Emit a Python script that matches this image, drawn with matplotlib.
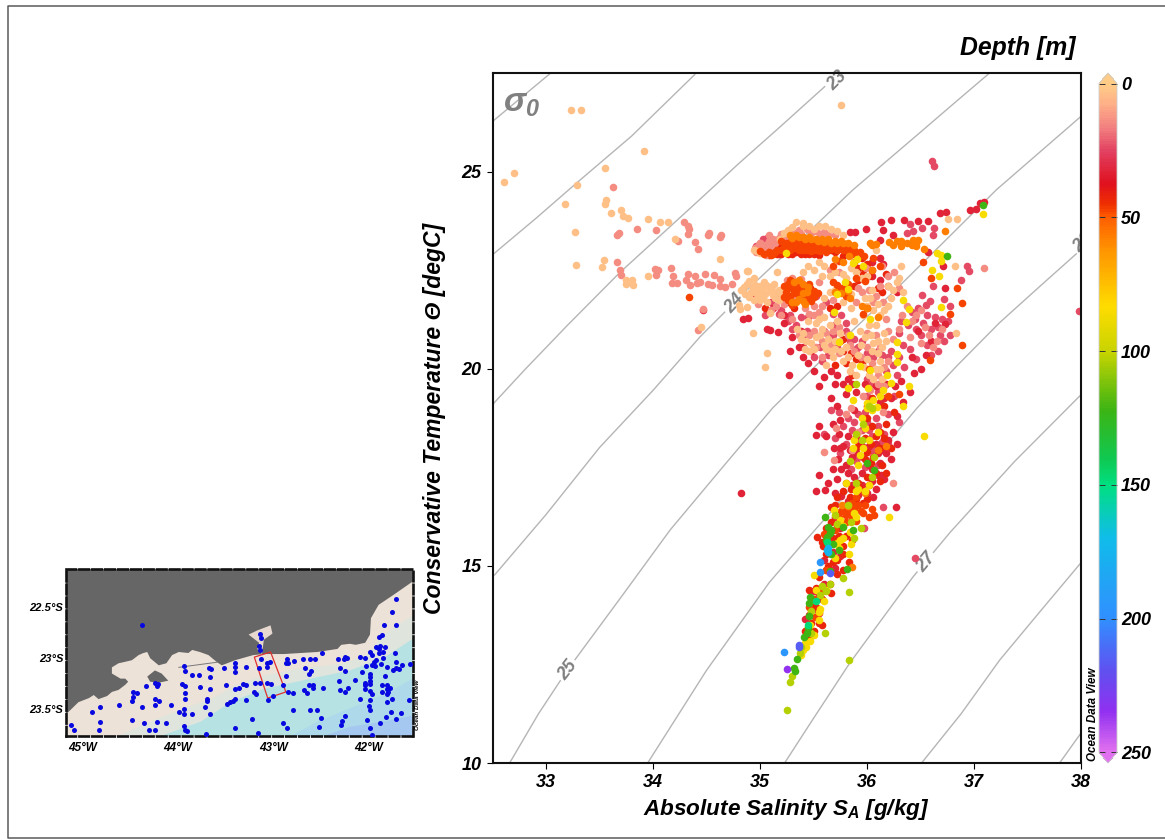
#!/usr/bin/env python3
"""T-S diagram of Conservative Temperature vs Absolute Salinity, with a station map inset."""

import matplotlib
matplotlib.use("Agg")
import matplotlib.pyplot as plt
from matplotlib.cm import ScalarMappable
from matplotlib.colors import LinearSegmentedColormap, Normalize
from matplotlib.lines import Line2D
from matplotlib.patches import Polygon

# density contours (SA, CT)
sigma_21 = [(32.50, 26.27), (33.04, 27.49)]
sigma_22 = [(32.50, 22.89), (32.90, 23.80), (33.29, 24.72), (33.80, 25.90), (34.39, 27.46)]
sigma_23 = [(32.50, 19.09), (32.80, 19.97), (33.20, 21.10), (33.69, 22.44), (34.40, 24.20), (34.80, 25.20), (35.19, 26.14), (35.75, 27.51)]
sigma_24 = [(32.52, 14.77), (33.00, 16.30), (33.50, 18.00), (34.00, 19.45), (34.44, 20.81), (34.86, 21.95), (35.35, 23.20),
            (35.87, 24.54), (36.50, 26.00), (36.80, 26.70), (37.15, 27.51)]
sigma_25 = [(32.66, 10.0), (32.93, 11.25), (33.20, 12.36), (33.70, 14.20), (34.16, 15.91), (34.65, 17.50), (35.12, 19.01),
            (35.70, 20.55), (36.24, 21.93), (36.75, 23.30), (37.21, 24.54), (38.0, 26.40)]
sigma_26 = [(33.95, 10.0), (34.50, 12.35), (35.09, 14.59), (35.38, 15.50), (35.68, 16.42), (36.05, 17.65), (36.47, 19.01),
            (36.85, 20.10), (37.24, 21.17), (37.62, 22.10), (38.0, 23.02)]
sigma_27 = [(35.23, 10.0), (35.49, 11.09), (35.84, 12.54), (36.14, 13.65), (36.43, 14.72), (36.78, 15.86), (37.38, 17.65), (38.0, 19.34)]
sigma_28 = [(36.51, 10.0), (36.88, 11.25), (37.24, 12.61), (37.62, 13.85), (38.0, 15.08)]
sigma_29 = [(37.80, 10.0), (38.0, 10.76)]
sigma_lines = [sigma_21, sigma_22, sigma_23, sigma_24, sigma_25, sigma_26, sigma_27, sigma_28, sigma_29]

# T-S samples grouped by depth [m], (SA, CT)
pts_d03 = [
    (33.23, 26.57), (33.33, 26.56), (32.61, 24.73), (32.70, 24.97), (33.55, 25.08), (33.92, 25.52), (33.29, 24.66),
    (33.18, 24.17), (33.56, 24.27), (33.55, 24.17), (33.61, 23.95), (33.70, 24.03), (33.72, 23.87), (33.77, 23.82),
    (33.95, 23.80), (34.07, 23.73), (34.14, 23.73), (33.27, 23.46), (33.28, 22.64), (33.54, 22.75), (33.52, 22.59),
    (34.21, 23.29), (34.63, 22.77), (33.95, 22.34), (33.75, 22.26), (33.80, 22.26), (33.75, 22.16), (33.81, 22.13),
    (34.88, 22.48), (34.45, 21.07), (34.93, 20.90), (35.07, 20.40), (35.05, 20.04), (34.81, 21.51), (34.88, 21.57),
    (35.09, 21.41), (35.76, 26.70), (34.82, 22.00), (34.85, 22.08), (34.88, 22.15), (34.90, 22.22), (34.93, 22.05),
    (34.95, 22.12), (34.97, 21.98), (35.00, 22.10), (35.02, 22.00), (35.05, 21.90), (35.08, 22.05), (35.10, 21.95),
    (35.12, 21.88), (35.15, 21.95), (35.16, 22.45), (34.89, 22.49), (34.80, 21.62), (34.94, 22.30), (35.00, 21.75),
    (35.07, 21.70), (34.99, 21.85), (35.13, 22.15), (35.34, 23.72), (35.40, 23.70), (35.55, 23.61), (35.61, 23.61),
    (35.72, 23.49), (35.26, 23.53), (35.19, 23.28), (34.97, 22.98), (34.94, 23.02), (35.00, 22.94), (35.30, 23.60),
    (35.46, 23.62), (35.50, 23.55), (35.40, 20.90), (35.43, 20.70), (35.48, 20.65), (35.52, 20.80), (35.55, 21.25),
    (35.58, 21.00), (35.60, 21.30), (35.62, 20.50), (35.65, 21.10), (35.68, 20.30), (35.70, 20.70), (35.72, 21.20),
    (35.75, 20.90), (35.78, 20.20), (35.80, 20.55), (35.62, 20.10), (35.52, 21.15), (35.45, 21.20), (35.60, 21.80),
    (35.65, 21.95), (35.70, 22.00), (35.78, 21.70), (35.85, 21.55), (35.88, 21.20), (35.93, 20.95), (35.96, 21.35),
    (36.00, 21.60), (36.03, 21.80), (36.06, 21.50), (36.08, 21.10), (36.10, 20.70), (36.12, 21.35), (36.05, 20.45),
    (36.00, 20.25), (36.08, 20.00), (36.02, 19.85), (35.97, 20.05), (36.12, 20.20), (36.14, 20.55), (36.22, 21.80),
    (36.20, 22.10), (36.30, 22.30), (36.82, 22.60), (36.83, 20.90), (36.76, 23.80), (36.84, 23.80), (36.32, 22.60),
    (36.08, 23.00), (35.85, 22.55), (35.78, 22.40), (35.70, 22.45), (35.60, 22.60), (35.58, 22.35), (35.95, 22.30),
    (34.86, 21.90), (34.90, 21.82), (34.94, 21.75), (34.96, 21.92), (35.03, 21.80), (35.06, 22.12), (35.11, 22.10),
    (35.14, 21.80), (35.18, 21.75), (35.18, 22.00), (35.20, 21.90), (35.04, 22.20), (34.92, 21.95), (35.35, 21.00),
    (35.38, 20.75), (35.42, 20.50), (35.46, 20.45), (35.50, 20.50), (35.56, 20.85), (35.60, 20.60), (35.64, 20.75),
    (35.66, 20.45), (35.70, 20.50), (35.74, 20.70), (35.76, 20.45), (35.82, 20.30), (35.86, 20.10), (35.84, 19.95),
    (35.90, 19.85), (35.92, 20.35), (35.94, 20.60), (35.98, 20.80), (36.02, 21.10), (36.04, 20.85), (36.06, 20.65),
    (36.10, 20.40), (36.12, 20.00), (36.14, 19.75), (36.06, 19.75), (36.16, 20.90), (36.18, 20.70), (36.16, 21.50),
    (36.10, 21.65), (36.05, 22.00), (35.98, 21.80), (36.24, 22.00), (36.28, 22.20), (36.34, 21.95), (35.85, 21.90),
    (35.80, 22.30), (35.55, 22.70), (35.50, 22.50), (35.45, 22.60), (35.40, 22.45), (35.65, 22.35), (35.90, 22.45),
    (36.00, 22.35), (36.20, 21.60), (35.40, 23.62), (35.66, 23.55), (35.22, 23.45), (35.78, 23.40),
]
pts_d14 = [
    (33.63, 24.60), (33.68, 23.44), (33.66, 23.39), (33.85, 23.55), (34.03, 23.53), (34.29, 23.72), (34.33, 23.61),
    (34.34, 23.55), (34.33, 23.42), (34.23, 23.24), (34.39, 23.22), (34.42, 23.04), (34.52, 23.44), (34.51, 23.38),
    (34.64, 23.38), (34.63, 23.33), (33.66, 22.70), (33.69, 22.51), (33.70, 22.37), (34.02, 22.53), (34.05, 22.50),
    (34.03, 22.37), (34.17, 22.56), (34.19, 22.34), (34.18, 22.18), (34.22, 22.18), (34.33, 22.39), (34.31, 22.26),
    (34.35, 22.13), (34.39, 22.34), (34.41, 22.18), (34.44, 22.20), (34.49, 22.41), (34.51, 22.16), (34.55, 22.13),
    (34.57, 22.37), (34.63, 22.28), (34.63, 22.11), (34.67, 22.06), (34.74, 22.16), (34.77, 22.43), (34.78, 22.34),
    (34.42, 20.97), (34.47, 21.52), (35.08, 23.40), (35.00, 23.18), (35.04, 23.08), (35.12, 23.30), (35.20, 23.42),
    (35.28, 23.48), (35.36, 23.52), (35.44, 23.55), (35.52, 23.50), (35.60, 23.48), (34.96, 22.96), (35.02, 22.98),
    (35.06, 22.88), (35.25, 22.25), (35.30, 22.30), (35.38, 22.28), (35.15, 21.60), (35.22, 21.65), (35.30, 21.80),
    (35.42, 21.75), (35.50, 21.60), (35.46, 21.40), (35.55, 21.45), (35.50, 20.95), (35.58, 20.70), (35.66, 20.60),
    (35.74, 20.40), (35.82, 20.85), (35.90, 21.70), (35.95, 21.95), (36.02, 22.00), (36.08, 21.85), (36.15, 21.70),
    (36.18, 21.25), (36.20, 20.95), (36.00, 20.90), (36.05, 20.15), (36.10, 19.85), (36.25, 22.45), (36.14, 22.60),
    (35.99, 22.55), (36.37, 21.60), (36.46, 21.35), (36.54, 21.05), (36.40, 20.80), (36.50, 20.65), (36.62, 20.55),
    (36.70, 21.00), (37.09, 22.56), (36.15, 18.90), (35.86, 17.95), (35.71, 18.50), (35.60, 17.90), (35.69, 17.69),
    (36.24, 17.10), (35.96, 19.30), (35.85, 19.00), (35.92, 18.40), (35.80, 18.85), (34.95, 23.05), (34.98, 23.12),
    (35.00, 23.20), (35.03, 23.00), (35.05, 23.15), (35.08, 23.25), (35.10, 23.10), (35.14, 23.20), (35.18, 23.32),
    (35.22, 23.30), (35.26, 23.40), (35.30, 23.38), (35.34, 23.45), (35.38, 23.42), (35.48, 23.45), (35.56, 23.42),
    (35.64, 23.38), (35.70, 23.40), (34.98, 21.65), (35.10, 21.50), (35.20, 21.35), (35.30, 21.25), (35.42, 21.55),
    (35.36, 20.85), (35.46, 20.85), (35.52, 20.55), (35.58, 20.30), (35.62, 20.90), (35.68, 20.95), (35.74, 21.05),
    (35.84, 20.60), (35.88, 20.45), (35.94, 20.30), (36.00, 20.55), (36.08, 20.85), (36.12, 20.55), (36.16, 20.05),
    (36.20, 20.20), (36.24, 20.75), (36.10, 19.60), (36.03, 19.45), (36.16, 19.55), (36.30, 21.00), (36.33, 21.35),
    (36.42, 21.20), (36.50, 21.50), (36.58, 20.85), (36.65, 20.70), (36.20, 22.35), (36.30, 22.05), (36.12, 22.10),
    (36.06, 21.70), (35.92, 22.05), (35.74, 22.45), (35.65, 22.50), (35.55, 22.20), (35.50, 21.35), (35.58, 21.60),
    (35.68, 21.75),
]
pts_d24 = [
    (35.20, 21.50), (35.10, 21.70), (35.05, 21.35), (35.28, 21.35), (35.34, 21.10), (35.44, 20.95), (35.56, 20.55),
    (35.60, 20.95), (35.68, 20.85), (35.72, 20.55), (35.90, 20.50), (35.95, 20.70), (36.10, 20.45), (36.22, 20.45),
    (36.30, 20.90), (36.38, 21.10), (36.51, 21.88), (36.59, 21.71), (36.62, 22.09), (36.56, 21.37), (36.45, 21.25),
    (36.52, 21.16), (36.64, 21.30), (36.70, 21.27), (36.48, 21.55), (36.55, 21.62), (36.40, 20.50), (36.46, 20.25),
    (36.35, 20.05), (36.28, 19.85), (36.20, 20.30), (36.05, 19.60), (36.00, 19.75), (35.80, 20.95), (35.62, 21.70),
    (35.68, 21.40), (35.52, 21.85), (35.45, 21.30), (36.93, 22.61), (36.95, 22.49), (36.88, 22.24), (36.78, 21.60),
    (36.72, 21.78), (36.68, 20.85), (36.72, 20.70), (36.60, 21.00), (36.40, 23.67), (36.37, 23.44), (36.43, 23.49),
    (36.51, 23.57), (36.63, 23.57), (36.62, 23.40), (35.60, 18.35), (35.78, 18.55), (35.82, 18.75), (35.88, 18.65),
    (35.95, 18.45), (36.00, 18.65), (36.05, 18.30), (35.98, 18.90), (36.08, 18.75), (35.90, 18.20), (35.97, 15.97),
    (36.15, 16.50), (36.45, 15.20), (35.75, 17.85), (35.92, 17.75), (36.00, 17.65), (35.85, 17.45), (36.14, 18.15),
    (37.98, 21.47), (36.61, 25.28), (36.63, 25.13), (34.96, 23.10), (34.99, 23.00), (35.02, 23.12), (35.06, 23.02),
    (35.10, 23.18), (35.14, 23.08), (35.03, 23.28), (35.07, 23.32), (35.12, 22.95), (35.18, 22.92), (35.18, 21.40),
    (35.26, 21.20), (35.30, 21.00), (35.38, 21.30), (35.42, 20.85), (35.50, 20.30), (35.58, 20.20), (35.64, 20.35),
    (35.68, 20.65), (35.70, 21.10), (35.76, 21.35), (35.80, 21.15), (35.84, 20.70), (35.88, 20.75), (35.92, 20.55),
    (36.00, 20.40), (36.06, 20.30), (36.14, 20.35), (36.18, 19.95), (36.24, 20.10), (36.30, 20.30), (36.34, 20.60),
    (36.32, 21.20), (36.42, 21.45), (36.46, 21.00), (36.50, 20.85), (36.56, 20.60), (36.60, 20.35), (36.66, 20.45),
    (36.66, 21.05), (36.76, 21.20), (36.78, 20.85), (35.66, 18.95), (35.74, 18.90), (35.70, 18.25), (35.80, 18.10),
    (35.86, 18.45), (35.92, 18.85), (36.02, 18.45), (36.10, 18.55), (36.16, 18.35), (36.20, 18.10), (36.05, 17.95),
    (35.90, 17.65), (35.98, 17.50), (36.10, 17.55), (36.00, 19.30), (36.10, 19.40), (36.25, 19.30), (36.30, 18.65),
    (36.20, 18.85),
]
pts_d33 = [
    (34.84, 21.26), (34.89, 21.28), (34.96, 21.82), (34.47, 21.50), (35.07, 21.00), (35.09, 20.98), (35.17, 20.92),
    (35.22, 21.15), (35.28, 20.45), (35.27, 19.85), (35.36, 20.55), (35.40, 20.30), (35.45, 20.15), (35.55, 19.55),
    (35.66, 19.95), (35.72, 19.85), (35.90, 19.40), (36.12, 19.15), (36.22, 19.25), (36.34, 19.15), (36.40, 19.40),
    (36.13, 23.72), (36.22, 23.76), (36.35, 23.78), (36.48, 23.74), (36.57, 23.74), (36.68, 23.95), (36.74, 23.97),
    (36.96, 24.02), (37.02, 24.04), (37.09, 24.22), (37.06, 24.20), (35.99, 23.55), (36.15, 23.51), (36.24, 23.40),
    (35.84, 23.46), (35.89, 23.46), (36.12, 23.27), (36.57, 22.96), (36.71, 22.61), (36.73, 22.05), (36.64, 21.16),
    (36.73, 21.13), (36.05, 22.70), (36.12, 22.80), (36.15, 22.65), (36.05, 22.35), (36.12, 22.25), (36.20, 22.10),
    (36.28, 21.95), (35.55, 18.54), (35.52, 18.32), (35.69, 17.99), (35.55, 17.30), (35.52, 16.89), (35.61, 16.93),
    (35.70, 16.86), (35.76, 16.76), (36.27, 16.50), (35.66, 19.25), (35.72, 19.05), (35.80, 19.35), (35.88, 18.95),
    (35.75, 18.70), (35.82, 18.30), (35.78, 18.05), (35.73, 17.70), (35.80, 17.55), (35.86, 17.75), (35.90, 17.90),
    (35.95, 18.05), (36.02, 18.05), (36.08, 18.10), (36.10, 17.85), (36.18, 17.85), (36.22, 17.70), (36.12, 17.60),
    (36.05, 17.45), (35.95, 17.35), (35.88, 17.25), (35.80, 17.10), (35.72, 17.20), (35.95, 17.05), (36.05, 17.15),
    (36.08, 16.95), (36.13, 17.30), (35.62, 15.75), (35.75, 15.25), (35.70, 14.95), (35.60, 14.55), (35.50, 14.35),
    (34.82, 16.85), (35.12, 21.55), (35.22, 21.35), (35.30, 20.80), (35.38, 20.95), (35.40, 20.55), (35.48, 20.45),
    (35.50, 19.95), (35.60, 19.80), (35.70, 19.60), (35.78, 19.60), (35.82, 19.75), (35.86, 19.60), (35.98, 19.60),
    (36.08, 19.55), (36.18, 19.60), (36.26, 19.55), (36.32, 19.70), (36.44, 19.90), (36.50, 20.00), (36.55, 20.35),
    (36.60, 20.70), (36.48, 20.95), (36.42, 20.30), (36.16, 19.25), (36.28, 18.80), (36.24, 18.40), (36.28, 18.10),
    (36.20, 18.20), (36.14, 17.95), (35.74, 18.35), (35.68, 18.60), (35.62, 18.30), (35.75, 18.00), (35.84, 17.95),
    (35.90, 18.30), (35.96, 17.75), (36.02, 17.55), (36.10, 17.30), (36.16, 17.20), (36.06, 16.75), (36.00, 16.85),
    (35.92, 16.80), (35.86, 17.05), (35.82, 17.35), (35.76, 17.45), (35.68, 17.45), (35.64, 17.10), (35.82, 16.65),
    (35.70, 16.25), (35.75, 15.95), (35.68, 15.35), (35.60, 15.15), (35.62, 14.90), (35.55, 14.25), (35.50, 13.90),
    (35.46, 13.15), (35.42, 13.65),
]
pts_d42 = [
    (35.10, 23.05), (35.13, 22.98), (35.16, 23.10), (35.22, 23.15), (35.30, 23.22), (35.38, 23.28), (35.70, 22.95),
    (35.78, 22.85), (35.86, 22.90), (35.95, 22.80), (36.00, 22.65), (35.97, 22.55), (36.05, 22.50), (35.92, 22.25),
    (35.88, 22.10), (35.80, 22.05), (35.25, 21.70), (35.15, 21.80), (35.05, 21.55), (35.32, 21.55), (35.40, 21.95),
    (35.47, 22.05), (35.72, 21.60), (35.65, 21.55), (35.75, 20.70), (35.78, 20.45), (35.85, 20.40), (35.90, 20.25),
    (35.95, 20.15), (36.12, 19.60), (36.05, 19.25), (36.16, 19.05), (36.00, 19.05), (36.25, 18.90), (36.18, 18.60),
    (36.12, 18.40), (36.05, 18.55), (35.98, 18.25), (35.92, 18.05), (36.00, 17.90), (36.06, 17.75), (36.14, 17.55),
    (36.08, 17.35), (36.00, 17.25), (35.92, 17.10), (35.85, 16.95), (35.78, 16.90), (35.84, 16.75), (35.78, 16.45),
    (35.70, 16.55), (35.66, 16.10), (35.62, 15.95), (35.68, 15.70), (35.74, 15.75), (35.78, 15.50), (35.83, 15.10),
    (35.78, 14.90), (35.72, 14.80), (35.65, 14.55), (35.55, 14.72), (35.52, 14.45), (35.46, 14.40), (35.55, 13.80),
    (35.48, 13.55), (35.50, 13.35), (35.58, 13.50), (35.53, 15.72), (35.59, 15.50), (35.64, 15.00), (35.47, 14.00),
    (35.05, 22.92), (35.08, 22.88), (35.12, 23.00), (35.16, 22.90), (35.20, 22.90), (35.26, 22.92), (35.30, 22.92),
    (35.34, 22.95), (35.38, 22.92), (35.42, 22.90), (35.46, 22.92), (35.50, 22.90), (35.55, 22.88), (35.62, 23.00),
    (35.66, 23.00), (35.72, 23.00), (35.92, 22.55), (35.96, 22.40), (36.02, 22.35), (36.10, 22.05), (36.14, 21.95),
    (36.18, 22.40), (35.78, 20.75), (35.80, 20.15), (35.86, 19.85), (35.70, 20.10), (36.00, 18.75), (36.08, 18.30),
    (36.16, 18.25), (36.22, 18.00), (36.12, 18.00), (36.04, 18.10), (35.98, 17.70), (36.04, 17.60), (36.18, 17.35),
    (36.12, 17.15), (36.02, 17.05), (35.94, 16.95), (36.00, 16.70), (35.90, 16.70), (35.96, 16.60), (35.72, 16.75),
    (35.66, 16.50), (35.72, 16.00), (35.80, 15.75), (35.86, 15.65), (35.78, 15.30), (35.72, 15.15), (35.68, 15.10),
    (35.62, 15.30), (35.58, 15.60), (35.66, 14.30), (35.58, 14.15), (35.52, 13.95), (35.46, 13.75), (35.44, 13.20),
    (35.42, 13.35), (35.55, 13.55),
]
pts_d47 = [
    (34.34, 21.83), (35.08, 22.95), (35.12, 22.92), (35.16, 23.00), (35.20, 23.00), (35.24, 22.98), (35.28, 23.02),
    (35.32, 23.05), (35.36, 23.02), (35.40, 23.00), (35.44, 23.00), (35.48, 22.98), (35.52, 23.00), (35.56, 22.98),
    (35.62, 22.95), (35.24, 23.18), (35.28, 23.22), (35.32, 23.25), (35.36, 23.20), (35.40, 23.22), (35.44, 23.20),
    (35.48, 23.18), (35.52, 23.15), (35.56, 23.15), (35.60, 23.15), (35.64, 23.12), (35.68, 23.10), (35.72, 23.10),
    (35.76, 23.08), (35.80, 23.12), (35.84, 23.05), (35.88, 23.00), (35.93, 22.95), (35.97, 22.85), (35.68, 22.60),
    (35.74, 22.72), (36.06, 22.80), (36.12, 22.60), (35.22, 22.10), (35.26, 22.15), (35.30, 22.05), (35.34, 22.00),
    (35.38, 22.10), (35.42, 22.02), (35.46, 22.15), (35.50, 21.98), (35.54, 21.92), (35.24, 21.95), (35.28, 21.85),
    (35.32, 21.92), (35.36, 21.88), (35.40, 21.82), (35.44, 21.78), (35.48, 21.72), (35.26, 21.75), (35.68, 22.20),
    (35.72, 22.12), (35.76, 22.05), (35.82, 22.15), (35.90, 22.30), (35.98, 22.22), (36.89, 21.67), (36.89, 20.60),
    (36.59, 20.21), (36.84, 22.05), (36.78, 21.40), (36.60, 22.30), (36.52, 22.70), (36.00, 21.55), (35.96, 21.40),
    (36.02, 20.00), (36.20, 19.30), (36.30, 19.35), (35.92, 16.55), (35.88, 16.45), (35.84, 16.35), (35.80, 16.30),
    (35.86, 16.20), (35.80, 16.10), (35.74, 16.25), (36.07, 16.30), (36.05, 16.45), (36.02, 16.25), (35.60, 15.80),
    (35.50, 14.15), (35.46, 13.95), (35.58, 14.35), (35.51, 13.70), (35.00, 22.98), (35.04, 22.90), (35.10, 22.88),
    (35.14, 22.96), (35.22, 23.08), (35.26, 23.10), (35.30, 23.12), (35.34, 23.12), (35.38, 23.10), (35.42, 23.10),
    (35.46, 23.08), (35.50, 23.07), (35.55, 23.06), (35.60, 23.05), (35.66, 23.04), (35.72, 23.02), (35.78, 23.00),
    (35.82, 22.98), (35.88, 22.90), (35.20, 23.25), (35.56, 23.25), (35.62, 23.22), (35.68, 23.20), (35.28, 22.25),
    (35.34, 22.10), (35.38, 21.95), (35.42, 21.90), (35.46, 21.88), (35.50, 21.82), (35.30, 21.62), (35.26, 22.05),
    (35.22, 21.82), (35.74, 21.95), (35.80, 21.85), (35.90, 16.75), (35.96, 16.35), (35.98, 16.55), (35.94, 16.40),
    (35.90, 16.15), (35.82, 16.45), (35.86, 16.60), (35.76, 16.40), (35.70, 15.90), (35.62, 14.90),
]
pts_d57 = [
    (35.28, 23.38), (35.34, 23.40), (35.40, 23.35), (35.46, 23.35), (35.52, 23.30), (35.58, 23.28), (35.64, 23.28),
    (35.70, 23.25), (35.76, 23.25), (35.82, 23.20), (35.88, 23.15), (36.03, 23.19), (36.08, 23.17), (36.21, 23.21),
    (36.28, 23.23), (36.32, 23.23), (36.37, 23.20), (36.43, 23.27), (36.46, 23.20), (36.42, 23.15), (36.46, 23.12),
    (36.53, 23.04), (36.73, 23.50), (35.70, 22.78), (35.78, 22.70), (35.83, 22.85), (36.05, 22.50), (35.40, 22.15),
    (35.36, 22.25), (35.32, 22.20), (35.44, 21.95), (35.40, 21.72), (35.36, 21.78), (35.30, 21.70), (35.70, 21.95),
    (35.76, 21.92), (35.82, 21.98), (35.95, 21.60), (36.00, 21.55), (36.10, 21.30), (35.84, 21.80), (35.77, 16.55),
    (35.82, 16.52), (35.86, 14.98), (35.98, 16.85), (36.10, 17.95), (36.18, 18.05), (35.30, 23.32), (35.36, 23.33),
    (35.42, 23.30), (35.48, 23.28), (35.54, 23.24), (35.60, 23.22), (35.66, 23.20), (35.72, 23.20), (35.78, 23.18),
    (36.05, 23.14), (36.24, 23.15), (36.32, 23.12), (36.48, 23.26), (35.88, 22.70), (35.40, 21.92), (35.34, 21.70),
    (35.42, 21.65), (35.45, 22.08),
]
pts_d85 = [
    (37.08, 23.93), (36.65, 22.94), (36.69, 22.89), (36.69, 22.72), (36.61, 22.51), (36.67, 22.34), (35.87, 22.67),
    (35.91, 22.77), (35.79, 22.21), (35.82, 22.03), (35.72, 21.90), (35.69, 21.45), (36.03, 21.26), (36.36, 21.18),
    (36.39, 21.52), (36.34, 21.75), (36.69, 21.57), (35.84, 20.85), (35.74, 20.67), (36.28, 20.67), (36.28, 20.38),
    (36.28, 20.16), (35.93, 20.06), (36.03, 19.96), (36.19, 19.85), (36.22, 19.64), (36.01, 19.51), (36.15, 19.47),
    (36.12, 19.30), (36.06, 19.20), (35.87, 19.20), (36.00, 19.13), (36.09, 19.04), (36.34, 19.06), (36.39, 19.55),
    (35.24, 22.94), (36.53, 18.30), (36.21, 16.24), (35.69, 16.42), (35.50, 14.77), (35.55, 13.84), (35.55, 13.63),
    (35.47, 13.10), (35.43, 12.95), (35.40, 12.87), (35.72, 15.58), (35.75, 15.65), (35.78, 15.70), (35.75, 16.17),
    (35.84, 15.85), (35.90, 16.25), (35.92, 17.55), (35.95, 18.75), (35.93, 17.80), (35.87, 18.00), (36.02, 18.20),
    (36.05, 18.95), (36.00, 19.00), (35.83, 15.30), (35.52, 14.40), (35.60, 14.10), (35.50, 13.25), (35.45, 13.45),
    (35.96, 22.60), (35.82, 19.50), (35.88, 18.20), (35.96, 18.00), (35.98, 18.50), (36.10, 18.40), (35.92, 16.95),
    (35.98, 16.90), (36.02, 17.05), (35.80, 17.10), (35.78, 16.00), (35.85, 15.55), (35.70, 15.20), (35.74, 15.45),
    (35.62, 14.40), (35.56, 13.90), (35.47, 13.50), (35.42, 13.05), (35.38, 12.75), (35.90, 16.90), (35.88, 16.35),
]
pts_d103 = [
    (35.255, 11.35), (35.83, 14.33), (35.83, 12.60), (35.30, 12.20), (35.28, 12.05), (35.78, 14.70), (35.58, 14.50),
    (35.61, 13.30), (35.37, 12.80), (35.96, 18.60), (36.05, 19.00), (35.90, 18.35), (36.05, 17.25), (36.07, 17.75),
    (35.85, 16.10), (35.72, 16.05), (35.94, 15.95), (35.65, 14.55), (35.62, 14.35), (35.48, 13.30), (35.90, 17.10),
    (35.95, 18.20), (36.02, 19.05), (35.90, 19.60), (35.84, 17.65), (35.82, 16.55), (35.70, 16.30), (35.88, 15.70),
    (35.56, 14.25), (35.48, 13.85), (35.38, 12.95),
]
pts_d122 = [
    (35.32, 12.42), (35.33, 12.34), (35.35, 12.63), (35.41, 13.20), (35.45, 13.42), (35.46, 13.74), (35.47, 14.22),
    (35.61, 16.25), (35.64, 15.98), (35.65, 15.83), (35.62, 15.66), (35.64, 15.56), (35.74, 15.40), (35.81, 14.93),
    (35.65, 14.88), (35.78, 15.99), (35.87, 15.90), (36.07, 17.44), (35.66, 15.90), (35.63, 15.72), (36.75, 22.87),
    (37.08, 24.15), (35.68, 15.55), (35.44, 13.30), (35.46, 14.05), (35.66, 15.30), (36.00, 17.60),
]
pts_d148 = [(35.52, 14.10), (35.45, 13.50), (35.63, 15.60)]
pts_d175 = [(35.64, 15.45), (35.64, 15.34), (35.63, 15.40)]
pts_d195 = [(35.22, 12.81), (35.56, 15.10), (35.56, 14.85)]
pts_d215 = [(35.36, 12.99), (35.36, 12.93), (35.65, 14.81)]
pts_d235 = [(35.255, 12.38)]

# draw order: deep reds first, pale surface water over them, then orange to blue on top
group_depths = [24, 33, 42, 14, 3, 47, 57, 85, 103, 122, 148, 175, 195, 215, 235]
group_points = [pts_d24, pts_d33, pts_d42, pts_d14, pts_d03, pts_d47, pts_d57, pts_d85,
                pts_d103, pts_d122, pts_d148, pts_d175, pts_d195, pts_d215, pts_d235]

# colour scale nodes
cmap_depth = [0, 7, 16, 25, 37, 45, 50, 62, 83, 100, 122, 140, 150, 170, 200, 220, 235, 250]
cmap_hex = ["#FFCC88", "#FFB088", "#F28080", "#E24060", "#E0101F", "#F03000", "#FF6000", "#FF9400", "#FFDC00",
            "#C8D400", "#3CB414", "#10C850", "#00DF80", "#10BCEA", "#3090FF", "#6050F0", "#9030F0", "#E070F0"]

x_ticks = [33, 34, 35, 36, 37, 38]
y_ticks = [10, 15, 20, 25]
cbar_ticks = [0, 50, 100, 150, 200, 250]

# station map (lon, lat)
map_lon_ticks = [-45, -44, -43, -42]
map_lon_labels = ["45°W", "44°W", "43°W", "42°W"]
map_lat_ticks = [-22.5, -23, -23.5]
map_lat_labels = ["22.5°S", "23°S", "23.5°S"]
land = [
    (-45.17, -22.13), (-41.54, -22.13), (-41.54, -22.25), (-41.74, -22.38), (-41.90, -22.48), (-41.98, -22.61),
    (-41.99, -22.77), (-42.04, -22.85), (-42.14, -22.87), (-42.20, -22.86), (-42.29, -22.87), (-42.33, -22.91),
    (-42.54, -22.94), (-42.89, -22.96), (-43.10, -22.96), (-43.21, -22.97), (-43.40, -23.02), (-43.54, -23.07),
    (-43.59, -23.04), (-43.68, -22.97), (-43.77, -22.94), (-43.85, -22.92), (-43.89, -22.95), (-43.99, -22.94),
    (-44.06, -22.97), (-44.12, -23.05), (-44.20, -23.07), (-44.29, -23.00), (-44.32, -22.94), (-44.36, -22.95),
    (-44.41, -22.97), (-44.48, -23.02), (-44.57, -23.04), (-44.62, -23.05), (-44.69, -23.09), (-44.69, -23.15),
    (-44.60, -23.20), (-44.55, -23.20), (-44.52, -23.23), (-44.55, -23.26), (-44.62, -23.31), (-44.69, -23.33),
    (-44.74, -23.37), (-44.83, -23.40), (-44.88, -23.36), (-44.93, -23.39), (-45.04, -23.43), (-45.15, -23.53),
    (-45.17, -23.55),
]
land_hole = [(-44.32, -23.18), (-44.24, -23.12), (-44.17, -23.15), (-44.10, -23.22), (-44.20, -23.24), (-44.29, -23.23)]
coast_line = [(-43.99, -23.09), (-43.59, -23.04)]
bay = [
    (-43.26, -22.77), (-43.17, -22.73), (-43.03, -22.68), (-43.01, -22.76), (-43.10, -22.82), (-43.12, -22.96),
    (-43.17, -22.91), (-43.15, -22.85),
]
bath_1 = [(-44.63, -23.76), (-44.29, -23.62), (-43.94, -23.49), (-43.66, -23.40), (-43.38, -23.26), (-43.10, -23.17),
          (-42.72, -23.10), (-42.26, -23.05), (-42.02, -22.97), (-41.85, -22.77), (-41.54, -22.58), (-41.54, -23.76)]
bath_2 = [(-44.18, -23.76), (-43.76, -23.62), (-43.45, -23.43), (-43.10, -23.30), (-42.61, -23.20), (-42.20, -23.12),
          (-41.85, -23.00), (-41.54, -22.81), (-41.54, -23.76)]
bath_3 = [(-42.82, -23.76), (-42.54, -23.62), (-42.20, -23.49), (-41.85, -23.36), (-41.54, -23.20), (-41.54, -23.76)]
bath_4 = [(-42.47, -23.76), (-42.20, -23.67), (-41.85, -23.62), (-41.54, -23.56), (-41.54, -23.76)]
transect_box = [(-43.20, -22.99), (-43.03, -22.94), (-42.87, -23.33), (-43.06, -23.39)]
stations = [
    (-45.12, -23.65), (-45.09, -23.70), (-44.90, -23.53), (-44.81, -23.48), (-44.81, -23.62), (-44.82, -23.70),
    (-44.62, -23.46), (-44.48, -23.60), (-44.48, -23.42), (-44.47, -23.38), (-44.43, -23.34), (-44.47, -23.33),
    (-44.35, -23.63), (-44.30, -23.70), (-44.24, -23.70), (-44.22, -23.62), (-44.12, -23.63), (-44.37, -23.48),
    (-44.24, -23.46), (-44.24, -23.40), (-44.20, -23.42), (-44.33, -23.27), (-44.24, -23.24), (-44.21, -23.25),
    (-44.22, -23.27), (-44.37, -22.68), (-44.07, -23.46), (-43.99, -23.53), (-43.94, -23.50), (-43.94, -23.55),
    (-43.85, -23.55), (-43.94, -23.66), (-43.93, -23.70), (-43.90, -23.71), (-43.71, -23.74), (-43.72, -23.48),
    (-43.66, -23.55), (-43.69, -23.40), (-43.69, -23.42), (-43.93, -23.40), (-43.93, -23.34), (-43.96, -23.25),
    (-43.93, -23.27), (-43.77, -23.28), (-43.66, -23.30), (-43.66, -23.18), (-43.85, -23.16), (-43.78, -23.16),
    (-43.93, -23.13), (-43.94, -23.08), (-43.67, -23.10), (-43.65, -23.11), (-43.52, -23.10), (-43.40, -23.05),
    (-43.40, -23.09), (-43.40, -23.14), (-43.29, -23.09), (-43.50, -23.26), (-43.40, -23.30), (-43.36, -23.29),
    (-43.32, -23.25), (-43.29, -23.26), (-43.20, -23.33), (-43.18, -23.35), (-43.29, -23.41), (-43.40, -23.40),
    (-43.42, -23.42), (-43.45, -23.43), (-43.49, -23.45), (-43.22, -23.59), (-43.40, -23.68), (-43.16, -23.73),
    (-42.90, -23.63), (-42.86, -23.68), (-42.80, -23.51), (-42.62, -23.51), (-42.54, -23.51), (-42.50, -23.58),
    (-42.52, -23.67), (-42.25, -23.56), (-42.28, -23.61), (-42.29, -23.65), (-42.02, -23.60), (-41.99, -23.68),
    (-41.97, -23.75), (-41.89, -23.63), (-41.82, -23.57), (-41.77, -23.53), (-41.72, -23.59), (-41.67, -23.54),
    (-42.00, -23.47), (-41.99, -23.51), (-41.99, -23.41), (-42.09, -23.40), (-41.81, -23.43), (-41.76, -23.40),
    (-41.58, -23.41), (-42.25, -23.33), (-42.30, -23.31), (-42.22, -23.29), (-42.48, -23.29), (-42.63, -23.26),
    (-42.59, -23.26), (-42.59, -23.29), (-42.68, -23.31), (-42.65, -23.34), (-42.85, -23.33), (-42.80, -23.34),
    (-42.90, -23.26), (-42.87, -23.17), (-42.87, -23.05), (-42.85, -23.05), (-42.86, -23.01), (-42.78, -23.03),
    (-42.69, -23.01), (-42.62, -23.01), (-42.57, -23.01), (-42.49, -22.95), (-42.67, -23.10), (-42.61, -23.13),
    (-42.63, -23.15), (-42.31, -23.22), (-42.15, -23.21), (-42.30, -23.10), (-42.25, -23.13), (-42.32, -23.01),
    (-42.26, -23.01), (-42.23, -23.00), (-42.25, -22.99), (-42.04, -23.30), (-42.04, -23.26), (-42.04, -23.24),
    (-41.99, -23.25), (-41.99, -23.22), (-41.99, -23.18), (-41.99, -23.15), (-42.07, -23.14), (-42.03, -23.08),
    (-41.86, -23.26), (-41.81, -23.26), (-41.78, -23.29), (-41.81, -23.30), (-41.80, -23.33), (-41.81, -23.35),
    (-41.86, -23.33), (-41.99, -23.32), (-41.97, -23.35), (-41.83, -23.17), (-41.75, -23.12), (-41.81, -23.09),
    (-41.72, -23.04), (-41.72, -23.10), (-41.69, -23.11), (-41.66, -23.07), (-41.57, -23.06), (-41.87, -23.06),
    (-41.85, -23.00), (-41.73, -22.95), (-41.93, -23.02), (-41.95, -23.04), (-41.97, -23.07), (-41.94, -23.08),
    (-41.99, -22.94), (-41.93, -22.89), (-41.90, -22.91), (-41.88, -22.88), (-41.83, -22.89), (-41.85, -22.94),
    (-41.90, -22.95), (-41.97, -22.97), (-42.04, -23.00), (-42.09, -22.99), (-41.72, -22.42), (-41.76, -22.55),
    (-41.84, -22.68), (-41.72, -22.68), (-41.86, -22.77), (-41.90, -22.79), (-43.14, -22.76), (-43.13, -22.80),
    (-43.15, -22.88), (-43.14, -22.92), (-43.13, -23.01), (-43.15, -23.10), (-43.07, -23.05), (-43.07, -23.09),
    (-43.04, -23.04), (-43.19, -23.24), (-43.14, -23.24), (-43.07, -23.24), (-43.03, -23.25), (-43.06, -23.41),
    (-43.00, -23.37),
]

W, H = 1165, 840
BOLD_IT = {"family": "Liberation Sans", "weight": "bold", "style": "italic"}
plt.rcParams["mathtext.fontset"] = "custom"
plt.rcParams["mathtext.rm"] = "Liberation Sans:bold:italic"
plt.rcParams["mathtext.it"] = "Liberation Sans:bold:italic"
plt.rcParams["mathtext.bf"] = "Liberation Sans:bold:italic"
plt.rcParams["mathtext.default"] = "it"


def px_axes(fig, x0, y0, x1, y1):
    """Axes from pixel box given with y measured from the top."""
    return fig.add_axes([x0 / W, 1 - y1 / H, (x1 - x0) / W, (y1 - y0) / H])


fig = plt.figure(figsize=(W / 100, H / 100), dpi=100)
# picture frame: left, top and bottom edges only, the right one falls off the image
fig.add_artist(Line2D([1, 8 / W, 8 / W, 1], [1 - 5.5 / H, 1 - 5.5 / H, 1 - 838 / H, 1 - 838 / H],
                      transform=fig.transFigure, color="#5a5a5a", lw=1.1))

cmap = LinearSegmentedColormap.from_list("odv", [(d / 250, c) for d, c in zip(cmap_depth, cmap_hex)], N=256)
norm = Normalize(0, 250)

# main T-S panel
ax = px_axes(fig, 492.5, 73, 1081, 763)
ax.set_xlim(32.5, 38)
ax.set_ylim(10, 27.5)
for line in sigma_lines:
    sa, ct = zip(*line)
    ax.plot(sa, ct, color="#b5b5b5", lw=1.0, zorder=1)

for depth, pts in zip(group_depths, group_points):
    sa, ct = zip(*pts)
    ax.scatter(sa, ct, s=30, color=cmap(norm(depth)), linewidths=0, zorder=2)

label_style = dict(color="#808080", fontsize=13, ha="center", va="center", zorder=1.5,
                   bbox=dict(fc="white", ec="none", pad=1.5), **BOLD_IT)
ax.text(35.72, 27.3, "23", rotation=45, **label_style)
ax.text(34.76, 21.65, "24", rotation=48, **label_style)
ax.text(33.20, 12.36, "25", rotation=52, **label_style)
ax.text(38.02, 23.2, "26", rotation=45, clip_on=True, **label_style)
ax.text(36.55, 15.08, "27", rotation=50, **label_style)
ax.text(32.60, 26.72, "σ$_0$", color="#808080", fontsize=24, ha="left", va="center", zorder=3,
        **BOLD_IT)

ax.set_xticks(x_ticks)
ax.set_yticks(y_ticks)
ax.set_xticklabels(x_ticks, fontsize=13, **BOLD_IT)
ax.set_yticklabels(y_ticks, fontsize=13, **BOLD_IT)
ax.tick_params(axis="both", length=4, width=0.8, direction="out", pad=4)
for side in ax.spines.values():
    side.set_linewidth(1.5)
    side.set_color("#111111")
ax.set_xlabel(r"Absolute Salinity S$_A$ [g/kg]", fontsize=16.2, labelpad=4, **BOLD_IT)
ax.set_ylabel("Conservative Temperature Θ [degC]", fontsize=16.5, labelpad=11, **BOLD_IT)

# colour bar
cax = px_axes(fig, 1099, 73, 1117, 763)
cb = fig.colorbar(ScalarMappable(norm=norm, cmap=cmap), cax=cax, extend="both", extendfrac=0.016, extendrect=False)
cax.invert_yaxis()
cb.set_ticks(cbar_ticks)
cb.set_ticklabels([str(t) for t in cbar_ticks], fontsize=13, **BOLD_IT)
cb.outline.set_edgecolor("#cccccc")
cb.outline.set_linewidth(0.6)
cax.tick_params(length=4, width=0.7, direction="in", color="#333333", pad=3, right=True, left=True)
fig.text(1076 / W, 1 - 48 / H, "Depth [m]", ha="right", va="center", fontsize=17.8, **BOLD_IT)
fig.text(1093 / W, 1 - 714 / H, "Ocean Data View", rotation=90, ha="center", va="center", fontsize=8.4, **BOLD_IT)

# station map inset
mp = px_axes(fig, 66, 569, 413, 736)
mp.set_xlim(-45.17, -41.54)
mp.set_ylim(-23.76, -22.13)
mp.set_facecolor("#EDE2D8")
for poly, colour in zip([bath_1, bath_2, bath_3, bath_4], ["#DFE5DC", "#B6E2E3", "#ADD9EA", "#A4C8F0"]):
    mp.add_patch(Polygon(poly, closed=True, fc=colour, ec="none", zorder=1))
mp.add_patch(Polygon(land, closed=True, fc="#666666", ec="none", zorder=2))
mp.add_patch(Polygon(land_hole, closed=True, fc="#666666", ec="none", zorder=2))
mp.add_patch(Polygon(bay, closed=True, fc="#E6D8CE", ec="none", zorder=2))
cx, cy = zip(*coast_line)
mp.plot(cx, cy, color="#777777", lw=0.7, zorder=2)
mp.add_patch(Polygon(transect_box, closed=True, fill=False, ec="#e03030", lw=0.9, zorder=3))
lon, lat = zip(*stations)
mp.scatter(lon, lat, s=13, color="#0808E0", linewidths=0, zorder=4)
mp.set_xticks(map_lon_ticks)
mp.set_yticks(map_lat_ticks)
mp.set_xticklabels(map_lon_labels, fontsize=8.5, **BOLD_IT)
mp.set_yticklabels(map_lat_labels, fontsize=8, **BOLD_IT)
mp.tick_params(axis="x", length=0, pad=4)
mp.tick_params(axis="y", length=0, pad=2)
for side in mp.spines.values():
    side.set_linewidth(1.9)
    side.set_color("#111111")
    side.set_linestyle((0, (3.6, 1.3)))
fig.text(417.5 / W, 1 - 705 / H, "Ocean Data View", rotation=90, ha="center", va="center", fontsize=4.5, **BOLD_IT)

fig.savefig("out.png", dpi=100)
